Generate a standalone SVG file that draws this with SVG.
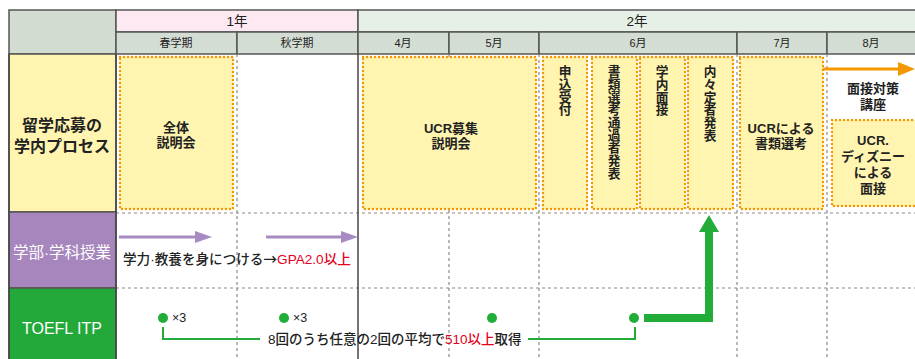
<svg xmlns="http://www.w3.org/2000/svg" width="915" height="359" viewBox="0 0 915 359">
<style>
text{font-family:"Liberation Sans","Noto Sans CJK JP",sans-serif;fill:#222}
.hd{stroke:#555;stroke-width:1.5}
.hdr1{font-size:13.5px}
.hdr2{font-size:11px}
.dash{stroke:#8a8a8a;stroke-width:1.2;stroke-dasharray:3 3;fill:none}
.solid{stroke:#444;stroke-width:1.5}
.node rect{fill:#fff5b0;stroke:#f39800;stroke-width:2.4;stroke-dasharray:0.1 3.9;stroke-linecap:round}
.nt{font-size:13px;font-weight:bold;text-anchor:middle}
.vt{font-family:"Noto Sans CJK JP",sans-serif;font-size:12.7px;font-weight:bold;writing-mode:vertical-rl;text-anchor:start}
.red{fill:#e60020}
.g{fill:#22ac38}
.gl{stroke:#22ac38;stroke-width:2;fill:none}
</style>
<rect width="915" height="359" fill="#fff"/>
<g id="header">
<rect class="hd" x="9" y="10" width="107" height="44" fill="#d3dcd1"/>
<rect class="hd" x="116" y="10" width="242" height="22" fill="#fce9f2"/>
<rect class="hd" x="358" y="10" width="562" height="22" fill="#e6f0e6"/>
<rect class="hd" x="116" y="32" width="121" height="22" fill="#d4ddd3"/>
<rect class="hd" x="237" y="32" width="121" height="22" fill="#d4ddd3"/>
<rect class="hd" x="358" y="32" width="91" height="22" fill="#d4ddd3"/>
<rect class="hd" x="449" y="32" width="90" height="22" fill="#d4ddd3"/>
<rect class="hd" x="539" y="32" width="198" height="22" fill="#d4ddd3"/>
<rect class="hd" x="737" y="32" width="90" height="22" fill="#d4ddd3"/>
<rect class="hd" x="827" y="32" width="93" height="22" fill="#d4ddd3"/>
<text class="hdr1" x="237" y="26" text-anchor="middle">1年</text>
<text class="hdr1" x="637" y="26" text-anchor="middle">2年</text>
<text class="hdr2" x="176" y="47" text-anchor="middle">春学期</text>
<text class="hdr2" x="297" y="47" text-anchor="middle">秋学期</text>
<text class="hdr2" x="403" y="47" text-anchor="middle">4月</text>
<text class="hdr2" x="494" y="47" text-anchor="middle">5月</text>
<text class="hdr2" x="638" y="47" text-anchor="middle">6月</text>
<text class="hdr2" x="782" y="47" text-anchor="middle">7月</text>
<text class="hdr2" x="871" y="47" text-anchor="middle">8月</text>
</g>
<g id="row-labels">
<rect class="hd" x="9" y="54" width="107" height="158" fill="#fff5b0"/>
<rect class="hd" x="9" y="212" width="107" height="76" fill="#a686bc"/>
<rect class="hd" x="9" y="288" width="107" height="75" fill="#23a93a"/>
<text x="62" y="131" text-anchor="middle" font-size="16" font-weight="bold">留学応募の</text>
<text x="62" y="152" text-anchor="middle" font-size="16" font-weight="bold">学内プロセス</text>
<text x="62" y="258" text-anchor="middle" font-size="15.5" style="fill:#fff">学部·学科授業</text>
<text x="62" y="334" text-anchor="middle" font-size="16" style="fill:#fff">TOEFL ITP</text>
</g>
<g id="grid">
<line class="dash" x1="116" y1="213" x2="915" y2="213"/>
<line class="dash" x1="116" y1="288" x2="915" y2="288"/>
<line class="dash" x1="237" y1="54" x2="237" y2="359"/>
<line class="dash" x1="449" y1="54" x2="449" y2="359"/>
<line class="dash" x1="539" y1="54" x2="539" y2="359"/>
<line class="dash" x1="737" y1="54" x2="737" y2="359"/>
<line class="dash" x1="827" y1="54" x2="827" y2="359"/>
<line class="solid" x1="358" y1="54" x2="358" y2="359"/>
<line class="solid" x1="116" y1="54" x2="116" y2="359"/>
<line class="solid" x1="9" y1="54" x2="9" y2="359"/>
</g>
<g id="n-zentai" class="node">
<rect x="120" y="57" width="113" height="152"/>
<text class="nt" x="176" y="132">全体</text>
<text class="nt" x="176" y="147">説明会</text>
</g>
<g id="n-ucr-setsumei" class="node">
<rect x="363" y="57" width="173" height="152"/>
<text class="nt" x="451" y="133" font-size="14">UCR募集</text>
<text class="nt" x="451" y="148">説明会</text>
</g>
<g id="n-moushikomi" class="node">
<rect x="543" y="57" width="44" height="152"/>
<text class="vt" x="565" y="65">申込受付</text>
</g>
<g id="n-shorui-tsuka" class="node">
<rect x="592" y="57" width="45" height="152"/>
<text class="vt" x="614" y="65">書類選考通過者発表</text>
</g>
<g id="n-gakunai-mensetsu" class="node">
<rect x="640" y="57" width="45" height="152"/>
<text class="vt" x="662" y="65">学内面接</text>
</g>
<g id="n-naitei" class="node">
<rect x="688" y="57" width="45" height="152"/>
<text class="vt" x="710" y="65">内々定者発表</text>
</g>
<g id="n-ucr-shorui" class="node">
<rect x="740" y="57" width="83" height="152"/>
<text class="nt" x="781" y="133">UCRによる</text>
<text class="nt" x="781" y="148">書類選考</text>
</g>
<g id="n-taisaku">
<text class="nt" x="873" y="93">面接対策</text>
<text class="nt" x="873" y="109">講座</text>
</g>
<g id="n-ucr-disney" class="node">
<rect x="832" y="120" width="90" height="86"/>
<text class="nt" x="873" y="145">UCR.</text>
<text class="nt" x="873" y="161">ディズニー</text>
<text class="nt" x="873" y="177">による</text>
<text class="nt" x="873" y="193">面接</text>
</g>
<g id="t-gpa">
<text x="123" y="264" font-size="13.6" font-weight="500">学力·教養を身につける<tspan font-family="Noto Sans CJK JP, sans-serif">→</tspan><tspan class="red">GPA2.0以上</tspan></text>
</g>
<g id="toefl-dots">
<circle class="g" cx="163" cy="318" r="5"/>
<text x="172" y="322" font-size="12.5">×3</text>
<circle class="g" cx="284" cy="318" r="5"/>
<text x="293" y="322" font-size="12.5">×3</text>
<circle class="g" cx="492" cy="318" r="5"/>
<circle class="g" cx="634" cy="318" r="5"/>
<text x="268" y="344" font-size="13.5" font-weight="500">8回のうち任意の2回の平均で<tspan class="red">510以上</tspan>取得</text>
</g>
<g id="connectors">
<line x1="823" y1="69" x2="902" y2="69" stroke="#f39800" stroke-width="3"/>
<polygon points="898,62 915,69 898,76" fill="#f39800"/>
<line x1="119" y1="237" x2="198" y2="237" stroke="#a98bc4" stroke-width="3.2"/>
<polygon points="195,231 212,237 195,243" fill="#a98bc4"/>
<line x1="266" y1="237" x2="344" y2="237" stroke="#a98bc4" stroke-width="3.2"/>
<polygon points="341,231 358,237 341,243" fill="#a98bc4"/>
<polyline class="gl" points="163,327 163,339 260,339"/>
<polyline class="gl" points="528,339 635,339 635,327"/>
<path d="M644 318 H709 V230" stroke="#22ac38" stroke-width="8" fill="none" stroke-linejoin="miter"/>
<polygon points="699,232 719,232 709,215" fill="#22ac38"/>
</g>
</svg>
